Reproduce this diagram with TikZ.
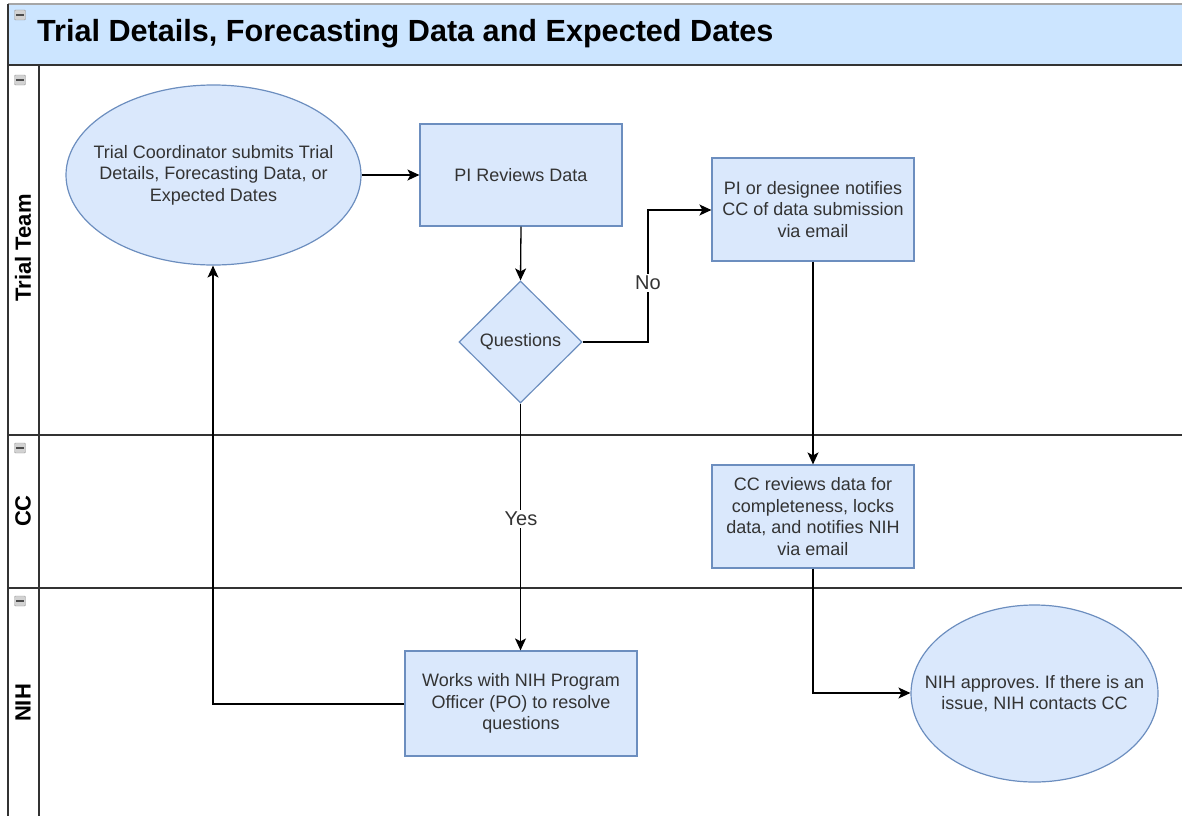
\documentclass[tikz,border=0pt]{standalone}
\usepackage{fontspec}
\setmainfont{Liberation Sans}
\frenchspacing
\usetikzlibrary{shapes.geometric,arrows.meta}
\definecolor{boxfill}{HTML}{DAE8FC}
\definecolor{boxline}{HTML}{6C8EBF}
\definecolor{headfill}{HTML}{CCE5FF}
\definecolor{txt}{HTML}{333333}
\definecolor{frame}{HTML}{333333}
\tikzset{
  x=1pt,y=-1pt,
  body/.style={font=\fontsize{18}{21.5}\selectfont\frenchspacing,text=txt,align=center},
  procbox/.style={body,draw=boxline,fill=boxfill,line width=1.2pt,rectangle,inner sep=0pt},
  oval/.style={draw=boxline,fill=boxfill,line width=1.2pt,ellipse,inner sep=0pt},
  ovaltext/.style={label={[body]center:{#1}}},
  decision/.style={body,draw=boxline,fill=boxfill,line width=1.2pt,diamond,inner sep=0pt,aspect=1},
  flow/.style={draw=black,line width=1.3pt,-{Stealth[length=12pt,width=11pt,inset=3pt]}},
  flowlabel/.style={font=\fontsize{20}{23}\selectfont,text=txt,fill=white,inner sep=2pt},
  lanetitle/.style={font=\bfseries\fontsize{22}{26}\selectfont,rotate=90},
  lanerule/.style={draw=frame,line width=1.8pt},
  collapse/.style={draw=gray!80,fill=gray!35,rounded corners=1pt,minimum width=11pt,minimum height=10pt,inner sep=0pt}
}
\begin{document}
\begin{tikzpicture}
\useasboundingbox (0,0) rectangle (1182,816);
% header band
\fill[headfill] (8,4) rectangle (1182,65);
\draw[gray!70,line width=1.5pt] (8,4) -- (1182,4);
\node[anchor=west,font=\bfseries\fontsize{30.6}{34}\selectfont,inner sep=0pt] (title) at (37,34) {Trial Details, Forecasting Data and Expected Dates};
% lane frame
\draw[lanerule] (8,4) -- (8,816);
\draw[lanerule] (8,65) -- (1182,65);
\draw[lanerule] (8,435) -- (1182,435);
\draw[lanerule] (8,588) -- (1182,588);
\draw[lanerule] (39,65) -- (39,816);
% lane titles
\node[lanetitle] (laneA) at (23,248) {Trial Team};
\node[lanetitle] (laneB) at (23,511) {CC};
\node[lanetitle] (laneC) at (23,703) {NIH};
% collapse icons
\foreach \yy/\nm in {15/ca,80/cb,448/cc,601/cd}{
  \node[collapse] (\nm) at (20,\yy) {};
  \draw[black!70,line width=1.8pt] (16,\yy) -- (24,\yy);
}
% nodes
\node[oval,minimum width=295pt,minimum height=180pt,ovaltext={Trial Coordinator submits Trial\\Details, Forecasting Data, or\\Expected Dates}] (start) at (213.5,175) {};
\node[procbox,minimum width=202pt,minimum height=102pt] (review) at (521,175) {PI Reviews Data};
\node[decision,minimum width=123pt,minimum height=122pt] (quest) at (520.5,342) {Questions};
\node[procbox,minimum width=202pt,minimum height=103pt] (notify) at (813,209.5) {PI or designee notifies\\CC of data submission\\via email};
\node[procbox,minimum width=202pt,minimum height=103pt] (ccrev) at (813,516.5) {CC reviews data for\\completeness, locks\\data, and notifies NIH\\via email};
\node[procbox,minimum width=232pt,minimum height=105pt] (works) at (521,703.5) {Works with NIH Program\\Officer (PO) to resolve\\questions};
\node[oval,minimum width=247pt,minimum height=177pt,ovaltext={NIH approves. If there is an\\issue, NIH contacts CC}] (approve) at (1034.5,693.5) {};
% connectors
\coordinate (noA) at (648,342);
\coordinate (noB) at (648,210);
\coordinate (retA) at (213,704);
\coordinate (ccA) at (813,693);
\draw[flow] (start.east) -- (review.west);
\draw[flow] (review.south) -- (quest.north);
\draw[flow] (quest.east) -- (noA) -- (noB) -- (notify.west |- noB);
\node[flowlabel] (nolbl) at (648,283) {No};
\draw[flow] (notify.south) -- (ccrev.north);
\draw[flow] (quest.south) -- (works.north -| quest.south);
\node[flowlabel] (yeslbl) at (521,519) {Yes};
\draw[flow] (works.west |- retA) -- (retA) -- (start.south -| retA);
\draw[flow] (ccrev.south) -- (ccA) -- (approve.west |- ccA);
\end{tikzpicture}
\end{document}
